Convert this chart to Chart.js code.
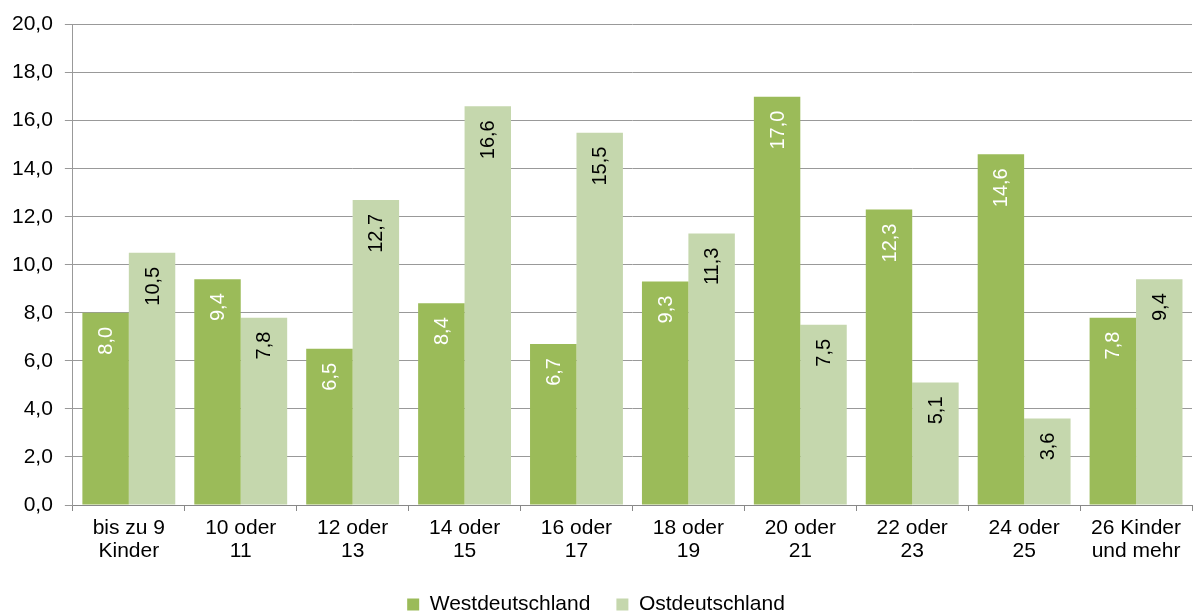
<!DOCTYPE html>
<html>
<head>
<meta charset="utf-8">
<script src="https://cdn.jsdelivr.net/npm/chart.js@4"></script>
<style>
  html, body { margin: 0; padding: 0; background: #fff; }
  #wrap { width: 1196px; height: 614px; }
</style>
</head>
<body>
<div id="wrap"><canvas id="chart"></canvas></div>
<script>
const kategorien = [
  ['bis zu 9', 'Kinder'], ['10 oder', '11'], ['12 oder', '13'], ['14 oder', '15'],
  ['16 oder', '17'], ['18 oder', '19'], ['20 oder', '21'], ['22 oder', '23'],
  ['24 oder', '25'], ['26 Kinder', 'und mehr']
];
const west = [8.0, 9.4, 6.5, 8.4, 6.7, 9.3, 17.0, 12.3, 14.6, 7.8];
const ost = [10.5, 7.8, 12.7, 16.6, 15.5, 11.3, 7.5, 5.1, 3.6, 9.4];

const schrift = '"Liberation Sans", Arial, sans-serif';
const komma = v => v.toFixed(1).replace('.', ',');

// Werte senkrecht in die Balken schreiben
const balkenWerte = {
  id: 'balkenWerte',
  afterDatasetsDraw(chart) {
    const ctx = chart.ctx;
    chart.data.datasets.forEach((ds, i) => {
      const meta = chart.getDatasetMeta(i);
      meta.data.forEach((bar, j) => {
        ctx.save();
        ctx.translate(bar.x, bar.y + 14);
        ctx.rotate(-Math.PI / 2);
        ctx.font = '20px ' + schrift;
        ctx.fillStyle = ds.labelColor;
        ctx.textAlign = 'right';
        ctx.textBaseline = 'middle';
        ctx.fillText(komma(ds.data[j]), 0, 1);
        ctx.restore();
      });
    });
  }
};

new Chart(document.getElementById('chart'), {
  type: 'bar',
  data: {
    labels: kategorien,
    datasets: [
      { label: 'Westdeutschland', data: west, backgroundColor: '#9BBB59', labelColor: '#ffffff' },
      { label: 'Ostdeutschland', data: ost, backgroundColor: '#C5D7AD', labelColor: '#000000' }
    ]
  },
  options: {
    responsive: true,
    maintainAspectRatio: false,
    animation: false,
    layout: { padding: { top: 24, right: 4, left: 0, bottom: -11 } },
    datasets: { bar: { categoryPercentage: 0.83, barPercentage: 1.0 } },
    plugins: {
      legend: {
        position: 'bottom',
        labels: {
          boxWidth: 12, boxHeight: 12, padding: 26,
          color: '#000',
          font: { family: schrift, size: 21 }
        }
      },
      tooltip: { enabled: false }
    },
    scales: {
      x: {
        grid: { offset: true, drawOnChartArea: false, drawTicks: true, tickLength: 6, color: '#888' },
        border: { color: '#888' },
        ticks: {
          color: '#000', padding: 6, maxRotation: 0,
          font: { family: schrift, size: 21, lineHeight: 1.1 }
        },
        afterFit: axis => { axis.height = 63; }
      },
      y: {
        min: 0, max: 20,
        grid: { color: '#999', tickLength: 8 },
        border: { color: '#999' },
        ticks: {
          stepSize: 2, color: '#000', padding: 12,
          font: { family: schrift, size: 21 },
          callback: v => komma(v)
        }
      }
    }
  },
  plugins: [balkenWerte]
});
</script>
</body>
</html>
